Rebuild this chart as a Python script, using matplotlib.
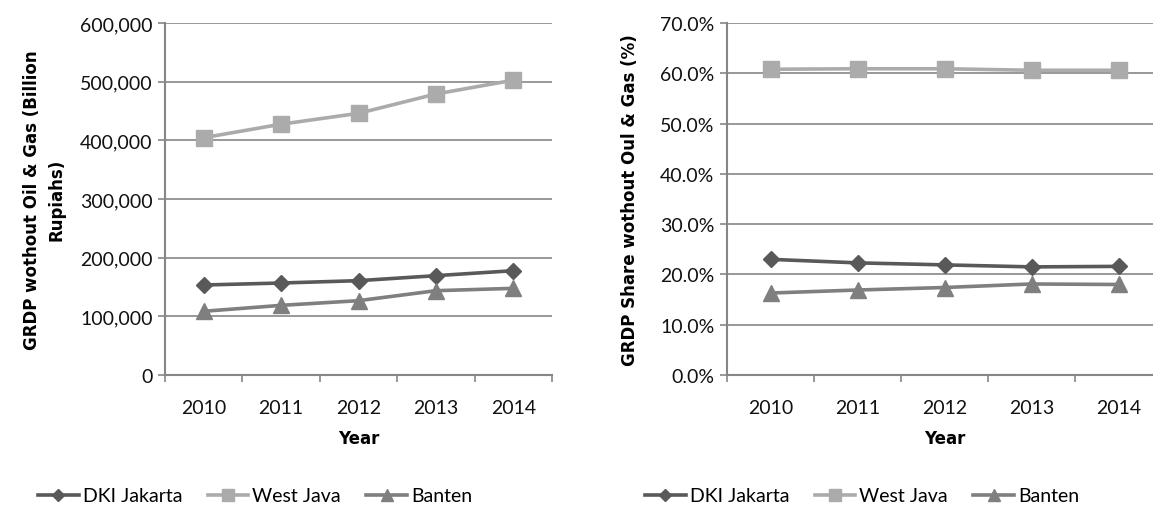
import numpy as np
import matplotlib
matplotlib.use('Agg')
from matplotlib import pyplot as plt
from matplotlib.ticker import FuncFormatter

years = ['2010', '2011', '2012', '2013', '2014']

# GRDP without oil & gas, billion rupiahs
grdp_jakarta = [153400, 156800, 160800, 169300, 177800]
grdp_westjava = [404500, 427500, 446000, 479000, 502500]
grdp_banten = [108600, 118700, 126700, 143700, 147700]

# share of GRDP without oil & gas, percent
share_jakarta = [23.0, 22.3, 21.9, 21.5, 21.6]
share_westjava = [60.8, 60.9, 60.9, 60.6, 60.6]
share_banten = [16.3, 16.9, 17.4, 18.1, 18.0]

names = ['DKI Jakarta', 'West Java', 'Banten']
colors = ['#595959', '#ababab', '#7f7f7f']
markers = ['D', 's', '^']
msizes = [8, 11, 11]
grid_col = '#868686'

tick_font = 'Lato'
label_font = 'DejaVu Sans'

fig = plt.figure(figsize=(11.53, 5.10), dpi=100)
W, H = 1153, 510


def make_axes(x0, x1):
    return fig.add_axes([x0 / W, 1 - 376 / H, (x1 - x0) / W, (376 - 24) / H])


def style(ax, top, step, fmt):
    ax.set_xlim(-0.5, 4.5)
    ax.set_ylim(0, top)
    ax.set_yticks(np.arange(0, top + step / 2, step))
    ax.yaxis.set_major_formatter(FuncFormatter(fmt))
    ax.set_xticks(range(len(years)))
    ax.set_xticklabels(years)
    ax.set_xticks(np.arange(-0.5, 4.6, 1), minor=True)
    ax.tick_params(axis='x', which='major', length=0, pad=17)
    ax.tick_params(axis='x', which='minor', length=5, color=grid_col, width=1.2)
    ax.tick_params(axis='y', length=5, color=grid_col, width=1.2, pad=4)
    for lab in ax.get_xticklabels() + ax.get_yticklabels():
        lab.set_fontfamily(tick_font)
        lab.set_fontsize(14)
        lab.set_color('#111111')
    ax.grid(axis='y', color=grid_col, linewidth=1.2)
    ax.set_axisbelow(True)
    for s in ['top', 'right']:
        ax.spines[s].set_visible(False)
    for s in ['left', 'bottom']:
        ax.spines[s].set_color(grid_col)
        ax.spines[s].set_linewidth(1.5)
    ax.set_xlabel('Year', fontfamily=label_font, fontweight='bold', fontsize=12,
                  labelpad=10)


def draw(ax, series):
    handles = []
    for vals, name, c, m, ms in zip(series, names, colors, markers, msizes):
        h, = ax.plot(range(len(years)), vals, color=c, marker=m, markersize=ms,
                     linewidth=2.6, label=name, clip_on=False)
        handles.append(h)
    return handles


ax1 = make_axes(165, 552)
h1 = draw(ax1, [grdp_jakarta, grdp_westjava, grdp_banten])
style(ax1, 600000, 100000, lambda v, p: f'{v:,.0f}')
ax1.set_ylabel('GRDP wothout Oil & Gas (Billion\nRupiahs)', fontfamily=label_font,
               fontweight='bold', fontsize=12, linespacing=1.4)
ax1.yaxis.set_label_coords(-100 / 387, 0.5)

ax2 = make_axes(727, 1162)
h2 = draw(ax2, [share_jakarta, share_westjava, share_banten])
style(ax2, 70, 10, lambda v, p: f'{v:.1f}%')
ax2.set_ylabel('GRDP Share wothout Oul & Gas (%)', fontfamily=label_font,
               fontweight='bold', fontsize=12)
ax2.yaxis.set_label_coords(-88 / 435, 0.5)

leg_kw = dict(loc='center', ncol=3, frameon=False, handlelength=2.1,
              columnspacing=1.3, handletextpad=0.2, markerscale=0.75,
              prop={'family': tick_font, 'size': 14})
fig.legend(handles=h1, bbox_to_anchor=(255 / W, 1 - 497 / H), **leg_kw)
fig.legend(handles=h2, bbox_to_anchor=(862 / W, 1 - 497 / H), **leg_kw)

fig.savefig('out.png', dpi=100)
